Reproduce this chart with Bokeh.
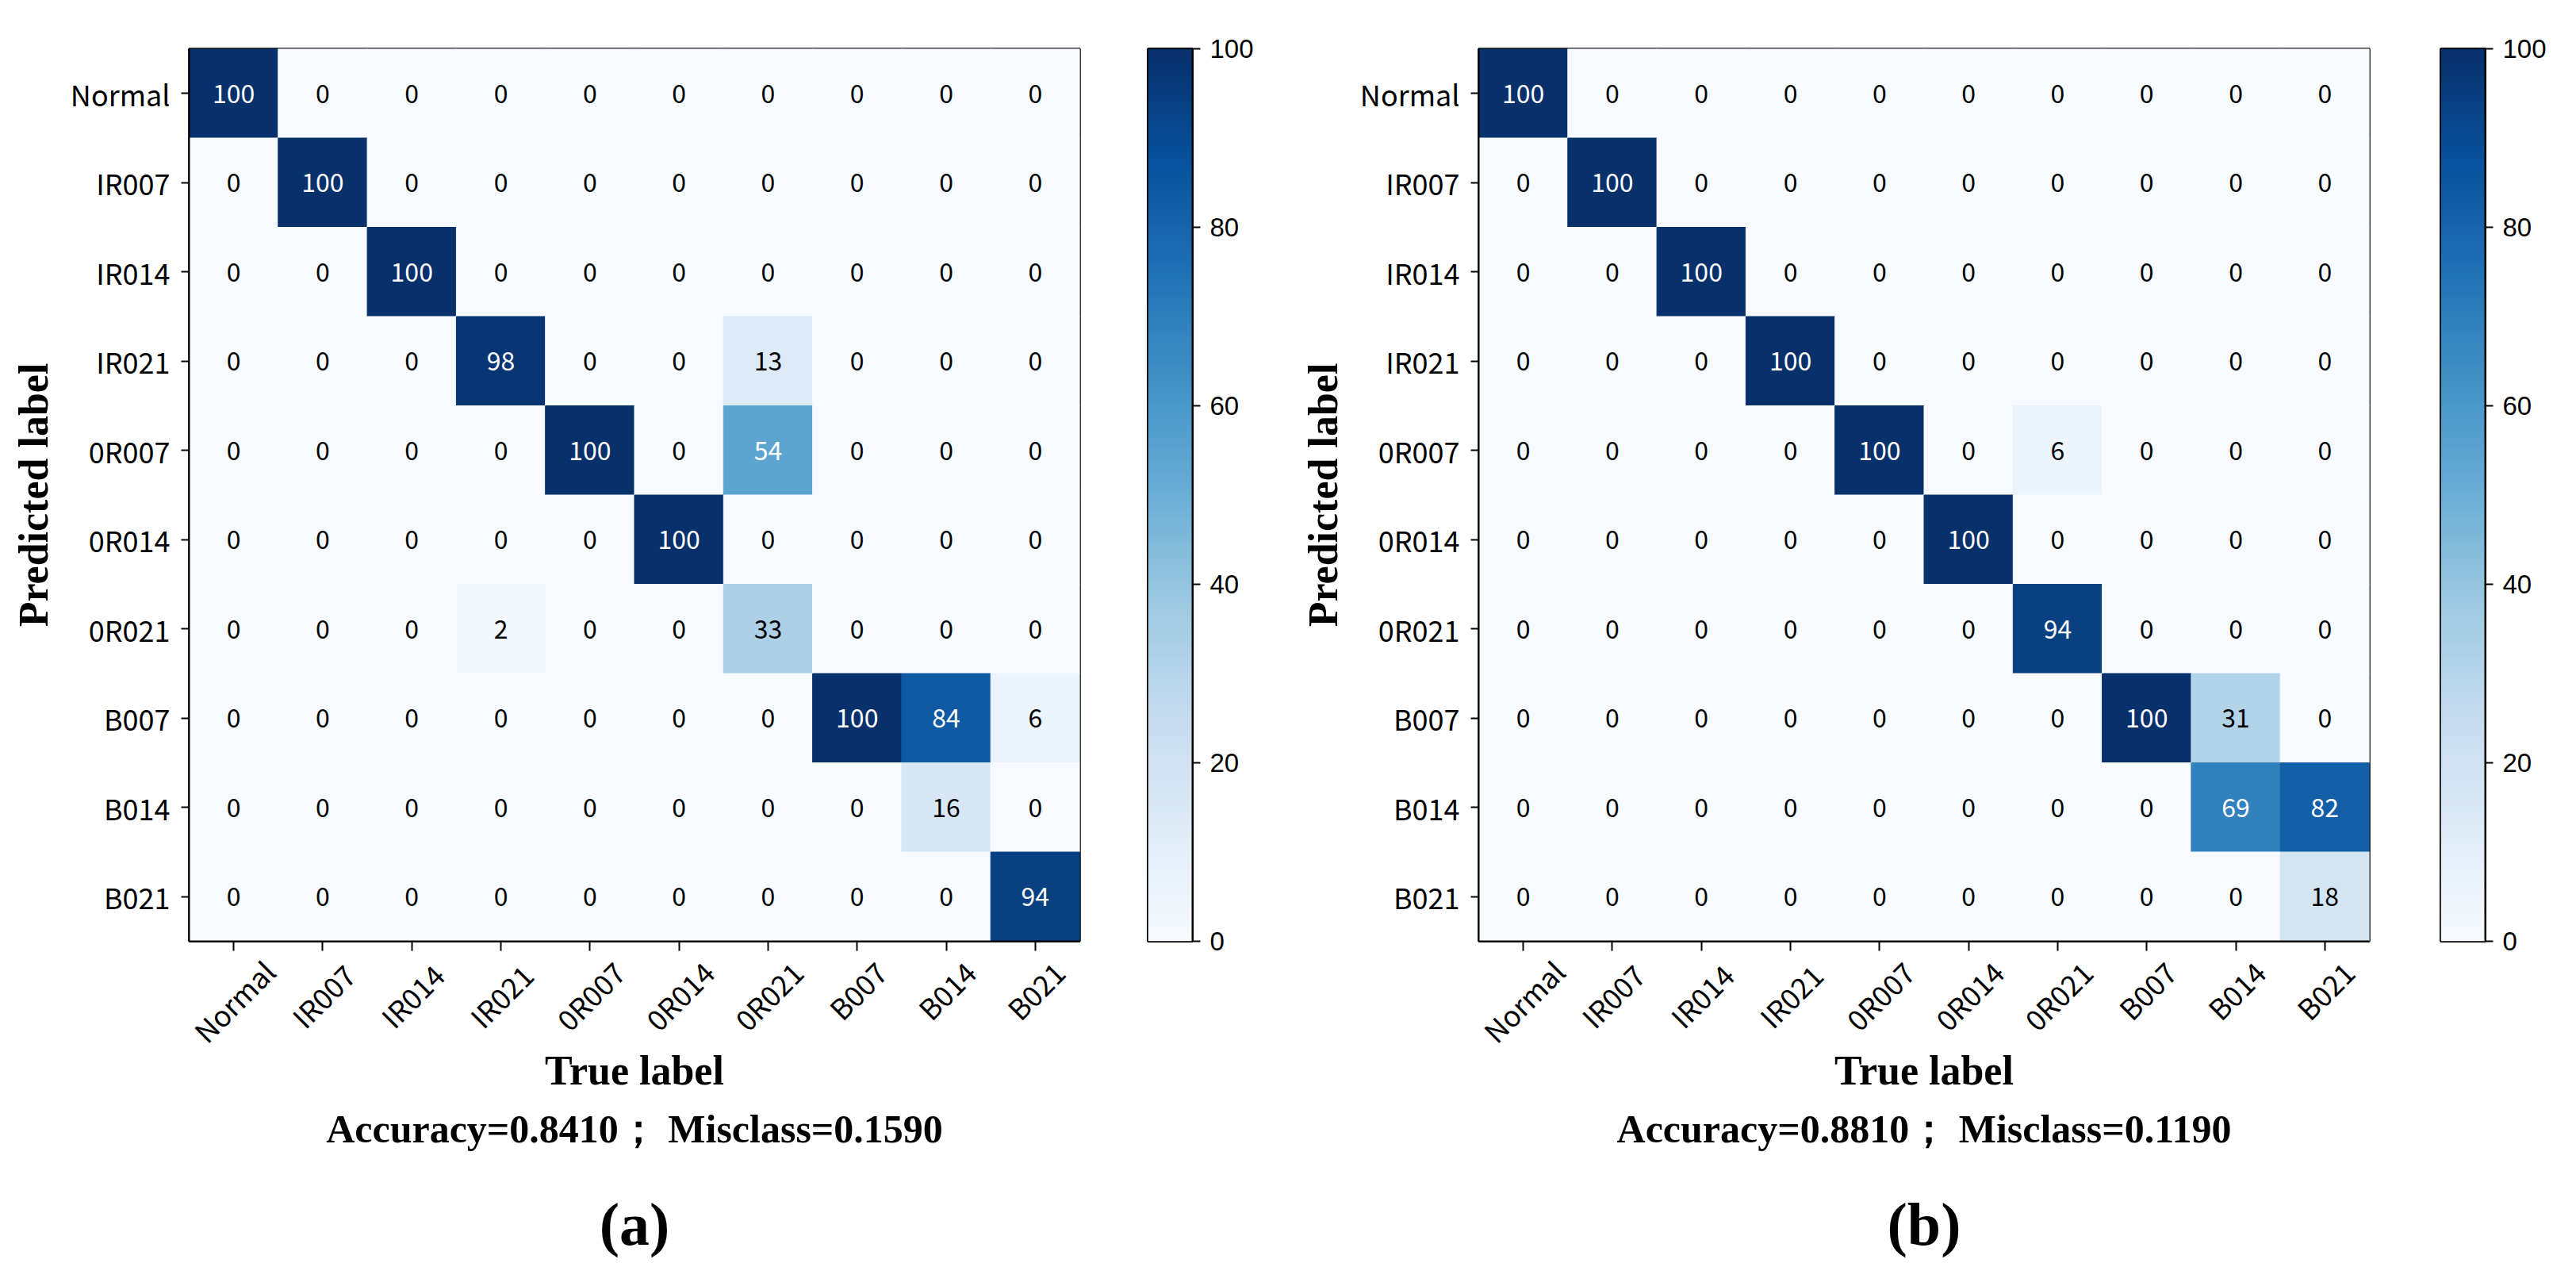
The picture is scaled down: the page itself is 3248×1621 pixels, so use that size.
import math
import numpy as np
from bokeh.plotting import figure
from bokeh.layouts import row, column
from bokeh.models import (ColumnDataSource, FactorRange, Range1d, LinearColorMapper,
                          FixedTicker)
from bokeh.transform import transform
from bokeh.palettes import Blues256
from bokeh.core.properties import value
from bokeh.embed import file_html
from bokeh.resources import INLINE

# ---------------- data ----------------
class_labels = ["Normal", "IR007", "IR014", "IR021", "0R007", "0R014", "0R021", "B007", "B014", "B021"]

# rows = predicted label, columns = true label
cm_a = [
    [100, 0, 0, 0, 0, 0, 0, 0, 0, 0],
    [0, 100, 0, 0, 0, 0, 0, 0, 0, 0],
    [0, 0, 100, 0, 0, 0, 0, 0, 0, 0],
    [0, 0, 0, 98, 0, 0, 13, 0, 0, 0],
    [0, 0, 0, 0, 100, 0, 54, 0, 0, 0],
    [0, 0, 0, 0, 0, 100, 0, 0, 0, 0],
    [0, 0, 0, 2, 0, 0, 33, 0, 0, 0],
    [0, 0, 0, 0, 0, 0, 0, 100, 84, 6],
    [0, 0, 0, 0, 0, 0, 0, 0, 16, 0],
    [0, 0, 0, 0, 0, 0, 0, 0, 0, 94],
]
cm_b = [
    [100, 0, 0, 0, 0, 0, 0, 0, 0, 0],
    [0, 100, 0, 0, 0, 0, 0, 0, 0, 0],
    [0, 0, 100, 0, 0, 0, 0, 0, 0, 0],
    [0, 0, 0, 100, 0, 0, 0, 0, 0, 0],
    [0, 0, 0, 0, 100, 0, 6, 0, 0, 0],
    [0, 0, 0, 0, 0, 100, 0, 0, 0, 0],
    [0, 0, 0, 0, 0, 0, 94, 0, 0, 0],
    [0, 0, 0, 0, 0, 0, 0, 100, 31, 0],
    [0, 0, 0, 0, 0, 0, 0, 0, 69, 82],
    [0, 0, 0, 0, 0, 0, 0, 0, 0, 18],
]
x_title = "True label"
y_title = "Predicted label"
caption_a = "Accuracy=0.8410； Misclass=0.1590"
caption_b = "Accuracy=0.8810； Misclass=0.1190"
panel_a = "(a)"
panel_b = "(b)"
cbar_ticks = [0, 20, 40, 60, 80, 100]
vmin, vmax = 0, 100

# ---------------- style / layout ----------------
palette = list(reversed(Blues256))
FRAME_TOP = 61
FRAME_H = 1125
FRAME_W = 1123
BORDER_L = 238
BORDER_R = 39
HM_BOTTOM = 14           # room under the frame for the tick marks only
HM_H = FRAME_TOP + FRAME_H + HM_BOTTOM
BELOW_H = 1600 - HM_H
CB_BOTTOM = 30
TICK_FONT = "Noto Sans CJK SC"
SERIF = "Liberation Serif"


def heatmap(cm):
    mapper = LinearColorMapper(palette=palette, low=vmin, high=vmax)
    xs, ys, vals, txt, tcol = [], [], [], [], []
    thresh = vmax / 2
    for i, pred in enumerate(class_labels):
        for j, true in enumerate(class_labels):
            v = cm[i][j]
            xs.append(true)
            ys.append(pred)
            vals.append(v)
            txt.append(str(v))
            tcol.append("white" if v > thresh else "black")
    src = ColumnDataSource(dict(x=xs, y=ys, v=vals, t=txt, c=tcol))

    xr = FactorRange(*class_labels)
    p = figure(width=BORDER_L + FRAME_W + BORDER_R, height=HM_H,
               x_range=xr, y_range=FactorRange(*reversed(class_labels)),
               toolbar_location=None, output_backend="svg",
               min_border_left=BORDER_L, min_border_right=BORDER_R,
               min_border_top=FRAME_TOP, min_border_bottom=HM_BOTTOM)
    p.rect(x="x", y="y", width=1, height=1, source=src,
           fill_color=transform("v", mapper), line_color=transform("v", mapper), line_width=1)
    p.text(x="x", y="y", text="t", text_color="c", source=src,
           text_align="center", text_baseline="middle",
           text_font=value(TICK_FONT), text_font_size="32px")

    p.grid.visible = False
    p.outline_line_color = "black"
    p.outline_line_width = 2.5
    p.background_fill_color = "white"

    for ax in (p.xaxis[0], p.yaxis[0]):
        ax.axis_line_color = "black"
        ax.axis_line_width = 2
        ax.major_tick_line_color = "black"
        ax.major_tick_line_width = 2
        ax.major_tick_in = 0
        ax.minor_tick_line_color = None
        ax.major_label_text_font = TICK_FONT
        ax.major_label_text_font_size = "36px"
        ax.major_label_text_color = "black"

    p.yaxis.major_tick_out = 10
    p.yaxis.major_label_standoff = 14
    p.yaxis.axis_label = y_title
    p.yaxis.axis_label_standoff = 15
    p.yaxis.axis_label_text_font = SERIF
    p.yaxis.axis_label_text_font_style = "bold"
    p.yaxis.axis_label_text_font_size = "52px"
    p.yaxis.axis_label_text_color = "black"

    # x tick labels are drawn (centred, rotated) in the panel below
    p.xaxis.major_tick_out = 12
    p.xaxis.major_label_standoff = 0
    p.xaxis.major_label_text_font_size = "1px"
    p.xaxis.major_label_text_alpha = 0
    return p, mapper, xr


def below_panel(xr, caption, tag):
    # y measured in px below the heatmap frame bottom (negative downwards)
    b = figure(width=BORDER_L + FRAME_W + BORDER_R, height=BELOW_H,
               x_range=xr, y_range=Range1d(-(HM_BOTTOM + BELOW_H), -HM_BOTTOM),
               x_axis_location=None, y_axis_location=None,
               toolbar_location=None, output_backend="svg",
               min_border_left=BORDER_L, min_border_right=BORDER_R,
               min_border_top=0, min_border_bottom=0)
    b.grid.visible = False
    b.outline_line_color = None

    # rotated tick labels, centred under each tick (matplotlib ha="center")
    top_gap = 24
    ly = [-(top_gap + 0.3536 * (19 * len(s) + 30)) for s in class_labels]
    b.text(x=class_labels, y=ly, text=class_labels, angle=math.pi / 4,
           text_align="center", text_baseline="middle",
           text_font=value(TICK_FONT), text_font_size="36px", text_color="black")

    cx = len(class_labels) / 2
    b.text(x=[cx], y=[-163], text=[x_title], text_align="center", text_baseline="middle",
           text_font=value(SERIF), text_font_style="bold", text_font_size="52px",
           text_color="black")
    b.text(x=[cx], y=[-236], text=[caption], text_align="center", text_baseline="middle",
           text_font=value(SERIF), text_font_style="bold", text_font_size="50px",
           text_color="black")
    b.text(x=[cx], y=[-356], text=[tag], text_align="center", text_baseline="middle",
           text_font=value(SERIF), text_font_style="bold", text_font_size="76px",
           text_color="black")
    return b


def colorbar_fig(mapper, width, left):
    c = figure(width=width, height=FRAME_TOP + FRAME_H + CB_BOTTOM,
               x_range=Range1d(0, 1), y_range=Range1d(vmin, vmax),
               y_axis_location="right", toolbar_location=None, output_backend="svg",
               min_border_left=left, min_border_right=width - left - 56,
               min_border_top=FRAME_TOP, min_border_bottom=CB_BOTTOM)
    ramp = np.linspace(vmin, vmax, 256).reshape(256, 1)
    c.image(image=[ramp], x=0, y=vmin, dw=1, dh=vmax - vmin, color_mapper=mapper)
    c.xaxis.visible = False
    c.grid.visible = False
    c.outline_line_color = "black"
    c.outline_line_width = 3
    ax = c.yaxis[0]
    ax.ticker = FixedTicker(ticks=cbar_ticks)
    ax.axis_line_color = "black"
    ax.axis_line_width = 2
    ax.major_tick_line_color = "black"
    ax.major_tick_line_width = 2
    ax.major_tick_in = 0
    ax.major_tick_out = 10
    ax.minor_tick_line_color = None
    ax.major_label_standoff = 12
    ax.major_label_text_font = "Liberation Sans"
    ax.major_label_text_font_size = "33px"
    ax.major_label_text_color = "black"
    return c


pa, ma, xra = heatmap(cm_a)
ba = below_panel(xra, caption_a, panel_a)
ca = colorbar_fig(ma, 226, 47)
pb, mb, xrb = heatmap(cm_b)
bb = below_panel(xrb, caption_b, panel_b)
cb = colorbar_fig(mb, 206, 51)

layout = row(column(pa, ba), ca, column(pb, bb), cb)
open("out.html", "w").write(file_html(layout, INLINE))
